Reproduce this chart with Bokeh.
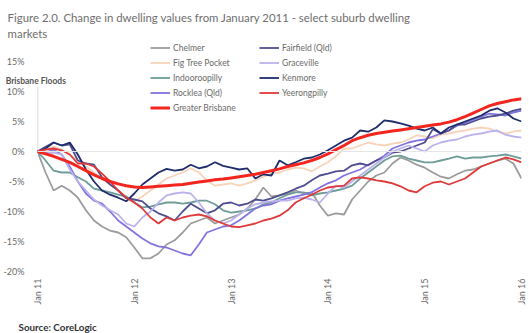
import math
from bokeh.plotting import figure
from bokeh.models import Range1d, FixedTicker, Legend, LegendItem, Label, Span
from bokeh.embed import file_html
from bokeh.resources import INLINE

# ---------------- data ----------------
months = list(range(61))  # Jan 2011 .. Jan 2016, monthly
x_tick_pos = [0, 12, 24, 36, 48, 60]
x_tick_labels = ["Jan 11", "Jan 12", "Jan 13", "Jan 14", "Jan 15", "Jan 16"]
y_ticks = [-20, -15, -10, -5, 0, 5, 10, 15]

chelmer = [0, -3.5, -6.5, -5.7, -6.5, -7.7, -9.8, -11.5, -12.5, -13.2, -13.5, -14.3,
           -16.0, -17.8, -17.8, -17.0, -15.5, -14.8, -13.5, -12.0, -11.5, -11.0, -12.0, -11.5,
           -11.0, -10.5, -9.5, -8.0, -6.0, -7.5, -7.3, -7.0, -6.5, -7.0, -6.8, -9.0,
           -10.7, -10.3, -10.5, -8.0, -6.5, -5.0, -4.0, -3.5, -2.0, -1.0, -1.5, -2.2,
           -2.7, -3.5, -4.2, -4.5, -3.8, -3.2, -3.0, -2.5, -2.0, -1.5, -1.2, -2.0,
           -4.5]
fairfield = [0, 0.8, 1.5, 1.0, 1.2, -1.5, -2.0, -2.2, -4.3, -5.5, -6.5, -7.8,
             -8.0, -8.3, -9.5, -10.3, -10.8, -11.5, -10.0, -8.7, -9.5, -10.3, -9.8, -8.7,
             -8.5, -9.0, -8.7, -8.0, -8.2, -7.8, -7.3, -6.8, -6.2, -5.7, -4.8, -4.0,
             -3.7, -3.3, -3.2, -2.3, -2.0, -2.3, -1.5, -1.0, -0.2, 0.0, 0.5, 1.0,
             1.5, 3.7, 3.0, 3.5, 4.5, 4.5, 5.0, 5.5, 5.8, 6.0, 6.3, 6.8,
             7.1]
fig_tree_pocket = [0, 0.3, 0.8, 0.3, -0.5, -1.5, -2.5, -3.5, -4.5, -5.5, -6.5, -7.5,
                   -8.3, -7.5, -6.5, -5.5, -4.5, -4.0, -3.5, -2.8, -3.5, -4.8, -5.7, -5.5,
                   -5.3, -5.7, -5.3, -4.8, -4.2, -3.7, -3.5, -3.0, -2.7, -2.8, -3.3, -2.5,
                   -1.8, -0.8, 0.5, 0.5, 1.0, 1.5, 1.2, 1.0, 1.3, 1.5, 2.0, 2.7,
                   2.5, 2.2, 2.8, 3.0, 3.3, 3.5, 3.8, 4.0, 3.8, 3.3, 3.0, 3.3,
                   3.5]
graceville = [0, -0.3, -0.2, -0.5, -3.0, -5.0, -6.5, -8.0, -9.0, -9.8, -10.5, -12.0,
              -12.5, -11.0, -10.0, -8.5, -7.3, -7.0, -6.8, -7.0, -8.5, -10.3, -11.5, -12.0,
              -11.5, -10.5, -9.5, -8.8, -8.5, -8.3, -8.2, -8.2, -7.8, -7.7, -8.0, -8.5,
              -7.0, -5.7, -6.0, -5.0, -4.0, -3.0, -2.0, -1.0, 0.0, 0.5, 1.0, 0.5,
              0.0, 1.0, 1.5, 1.8, 2.0, 2.5, 2.8, 3.0, 3.3, 3.5, 2.8, 2.5,
              2.3]
indooroopilly = [0, -1.5, -3.2, -3.5, -3.5, -4.3, -5.0, -6.2, -6.5, -6.8, -7.2, -7.5,
                 -8.5, -9.3, -9.2, -8.8, -8.5, -8.5, -8.7, -8.5, -8.2, -8.2, -8.8, -9.8,
                 -10.2, -10.0, -9.8, -9.5, -8.8, -8.5, -7.8, -7.2, -6.8, -6.8, -7.3, -7.0,
                 -6.8, -6.5, -6.2, -5.7, -4.5, -3.5, -2.5, -1.5, -0.8, -0.7, -1.2, -1.5,
                 -1.8, -1.8, -1.5, -1.2, -0.8, -1.2, -1.0, -1.0, -0.8, -0.7, -0.5, -0.8,
                 -1.2]
kenmore = [0, 0.5, 1.5, 1.0, 1.5, -0.5, -3.0, -5.0, -6.5, -7.2, -7.7, -8.3,
           -7.0, -5.5, -4.5, -3.5, -2.9, -3.2, -3.0, -2.2, -2.8, -2.5, -1.8, -2.4,
           -2.7, -3.0, -2.8, -4.5, -3.8, -4.0, -1.5, -2.3, -1.8, -1.2, -1.0, -0.5,
           0.2, 1.0, 1.8, 2.3, 3.5, 3.3, 4.0, 5.2, 5.0, 4.7, 4.3, 3.8,
           3.5, 4.0, 3.0, 4.0, 4.5, 5.0, 5.5, 6.0, 6.8, 7.2, 6.5, 5.5,
           5.0]
rocklea = [0, -0.2, 0.3, -0.5, -2.5, -5.0, -7.0, -8.2, -8.7, -10.0, -11.5, -12.5,
           -13.5, -14.5, -15.3, -15.8, -16.0, -16.5, -17.0, -17.3, -15.5, -13.5, -13.0, -12.5,
           -12.3, -11.5, -10.5, -9.5, -9.0, -8.8, -8.2, -7.8, -7.5, -7.2, -6.8, -6.0,
           -5.3, -4.8, -4.0, -3.5, -3.0, -2.2, -1.5, -0.7, 0.5, 1.0, 1.5, 1.8,
           2.0, 2.5, 3.0, 3.5, 4.3, 4.8, 5.3, 5.8, 6.3, 6.2, 6.0, 6.5,
           6.8]
yeerongpilly = [0, 0.3, 0.5, 0.2, -0.5, -2.0, -2.0, -2.5, -3.7, -5.0, -6.5, -7.7,
                -8.5, -9.5, -11.0, -12.0, -11.0, -11.5, -11.0, -10.7, -10.5, -10.8, -11.5, -12.0,
                -12.5, -12.6, -12.3, -12.0, -11.5, -11.2, -10.7, -9.8, -8.5, -7.8, -7.2, -6.5,
                -6.0, -5.8, -5.7, -4.5, -4.3, -4.5, -4.8, -5.0, -5.3, -5.8, -6.5, -6.8,
                -5.8, -5.2, -5.0, -5.5, -5.0, -4.5, -3.5, -2.5, -2.0, -1.5, -1.0, -1.3,
                -1.8]
greater_brisbane = [0, -0.4, -0.8, -1.3, -1.8, -2.5, -3.2, -3.9, -4.5, -5.0, -5.4, -5.7,
                    -5.9, -6.0, -5.9, -5.8, -5.7, -5.6, -5.5, -5.3, -5.1, -4.9, -4.7, -4.6,
                    -4.4, -4.2, -4.0, -3.8, -3.5, -3.2, -2.9, -2.5, -2.2, -1.9, -1.5, -1.0,
                    -0.4, 0.3, 1.0, 1.8, 2.3, 2.7, 3.0, 3.2, 3.4, 3.6, 3.8, 4.0,
                    4.2, 4.4, 4.6, 4.9, 5.3, 5.8, 6.4, 7.0, 7.6, 8.0, 8.3, 8.6,
                    8.8]
floods_month = [0]
floods_top = [10.8]
floods_base = [0]

FONT = "Lato"
TXT = "#6a6a6a"

p = figure(width=529, height=333, output_backend="svg", toolbar_location=None,
           x_range=Range1d(0, 60), y_range=Range1d(-20, 18.5),
           min_border_left=35, min_border_right=8, min_border_top=40, min_border_bottom=62)
p.outline_line_color = None
p.xgrid.grid_line_color = None
p.ygrid.grid_line_color = None
p.background_fill_color = "white"
p.border_fill_color = "white"

# axes
p.yaxis.ticker = FixedTicker(ticks=y_ticks)
p.yaxis.major_label_overrides = {t: f"{t}%" for t in y_ticks}
p.xaxis.ticker = FixedTicker(ticks=x_tick_pos)
p.xaxis.major_label_overrides = dict(zip(x_tick_pos, x_tick_labels))
p.xaxis.major_label_orientation = math.pi / 2
for ax in (p.xaxis, p.yaxis):
    ax.axis_line_color = None
    ax.major_tick_line_color = None
    ax.minor_tick_line_color = None
    ax.major_tick_out = 0
    ax.major_tick_in = 0
    ax.major_label_text_font = FONT
    ax.major_label_text_font_size = "9px"
    ax.major_label_text_color = TXT
p.yaxis.major_label_standoff = 13
p.xaxis.major_label_standoff = 7

p.add_layout(Span(location=0, dimension="width", line_color="#e6e6e6", line_width=1))
p.segment(x0=floods_month, y0=floods_base, x1=floods_month, y1=floods_top,
          line_color="#cfcfcf", line_width=1.5)

series = [
    ("Chelmer", chelmer, "#9c9c9c", 1.8),
    ("Fig Tree Pocket", fig_tree_pocket, "#f7d3b9", 1.8),
    ("Indooroopilly", indooroopilly, "#6e9c98", 1.8),
    ("Rocklea (Qld)", rocklea, "#8274de", 1.8),
    ("Fairfield (Qld)", fairfield, "#4e4e90", 1.8),
    ("Graceville", graceville, "#bbb2ec", 1.8),
    ("Kenmore", kenmore, "#1f2d6c", 1.8),
    ("Yeerongpilly", yeerongpilly, "#e0393a", 1.8),
    ("Greater Brisbane", greater_brisbane, "#f2261e", 3.0),
]
rend = {}
for name, vals, col, w in series:
    rend[name] = p.line(months, vals, line_color=col, line_width=w)

def make_legend(names, loc):
    lg = Legend(items=[LegendItem(label=n, renderers=[rend[n]]) for n in names],
                location=loc, orientation="vertical",
                glyph_width=20, glyph_height=13, label_height=13, spacing=2,
                label_standoff=3, padding=0, margin=0,
                label_text_font=FONT, label_text_font_size="8.5px",
                label_text_color=TXT, background_fill_alpha=0, border_line_alpha=0)
    p.add_layout(lg, "center")

make_legend(["Chelmer", "Fig Tree Pocket", "Indooroopilly", "Rocklea (Qld)", "Greater Brisbane"], (113, 157))
make_legend(["Fairfield (Qld)", "Graceville", "Kenmore", "Yeerongpilly"], (222, 172))

def px_x(px):
    return (px - 35) / 8.1

def px_y(py):
    return (151 - py) / 6.0

def add_text(px, py, txt, size, color, side, style="normal"):
    p.add_layout(Label(x=px_x(px), y=px_y(py), text=txt,
                       text_font=FONT, text_font_size=size, text_font_style=style,
                       text_color=color, text_baseline="alphabetic"), side)

add_text(5, 17, "Figure 2.0. Change in dwelling values from January 2011 - select suburb dwelling", "11.4px", "#6e6e6e", "above")
add_text(5, 33, "markets", "11.4px", "#6e6e6e", "above")
add_text(3, 80, "Brisbane Floods", "8.5px", "#555555", "above", "bold")
add_text(16, 326, "Source: CoreLogic", "9.8px", "#333333", "below", "bold")

open("out.html", "w").write(file_html(p, INLINE))
